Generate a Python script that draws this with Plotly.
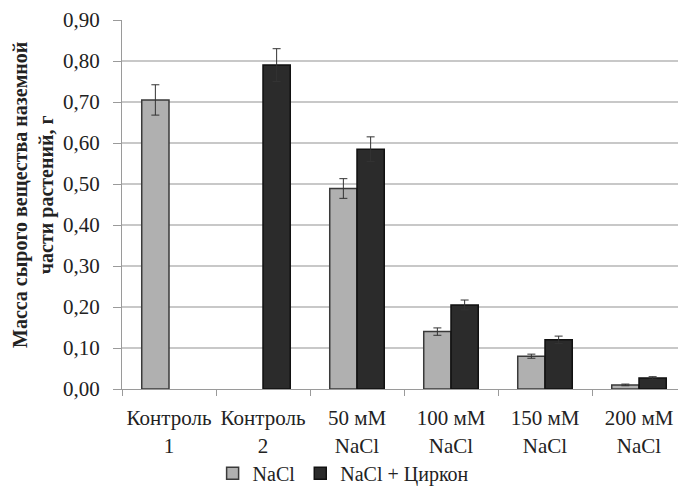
import plotly.graph_objects as go

categories = ["Контроль<br>1", "Контроль<br>2", "50 мМ<br>NaCl", "100 мМ<br>NaCl", "150 мМ<br>NaCl", "200 мМ<br>NaCl"]
nacl = [0.705, None, 0.489, 0.140, 0.080, 0.010]
nacl_err = [0.037, None, 0.024, 0.009, 0.005, 0.002]
zircon = [None, 0.790, 0.585, 0.205, 0.120, 0.027]
zircon_err = [None, 0.040, 0.030, 0.012, 0.009, 0.003]
y_ticks = [0.0, 0.1, 0.2, 0.3, 0.4, 0.5, 0.6, 0.7, 0.8, 0.9]

FONT = "Liberation Serif"

fig = go.Figure()
fig.add_trace(go.Bar(
    name="NaCl", x=categories, y=nacl,
    error_y=dict(type="data", array=nacl_err, color="#333333", thickness=1, width=4),
    marker=dict(color="#b0b0b0", line=dict(color="#3a3a3a", width=1.5)),
))
fig.add_trace(go.Bar(
    name="NaCl + Циркон", x=categories, y=zircon,
    error_y=dict(type="data", array=zircon_err, color="#333333", thickness=1, width=4),
    marker=dict(color="#2b2b2b", line=dict(color="#111111", width=1.5)),
))

fig.update_layout(
    width=678, height=480,
    margin=dict(l=114, r=0, t=12, b=99, autoexpand=False),
    paper_bgcolor="white", plot_bgcolor="white",
    separators=", ",
    barmode="group", bargap=0.42, bargroupgap=0.0,
    font=dict(family=FONT, size=21, color="#222222"),
    showlegend=True,
    legend=dict(
        orientation="h", xref="container", yref="paper",
        x=0.495, xanchor="center", y=-0.228, yanchor="middle",
        font=dict(family=FONT, size=20, color="#222222"),
        itemwidth=30, tracegroupgap=0, traceorder="normal",
        bgcolor="rgba(0,0,0,0)", borderwidth=0,
    ),
    xaxis=dict(
        automargin=False,
        showline=True, linecolor="#9a9a9a", linewidth=1,
        ticks="outside", ticklen=6, tickcolor="#9a9a9a",
        tickson="boundaries", showgrid=False,
        ticklabelstandoff=10,
        tickfont=dict(family=FONT, size=21, color="#222222"),
    ),
    yaxis=dict(
        automargin=False,
        range=[0, 0.9], tickvals=y_ticks, tickformat=".2f",
        showline=True, linecolor="#9a9a9a", linewidth=1,
        ticks="outside", ticklen=8, tickcolor="#9a9a9a",
        ticklabelstandoff=9,
        showgrid=True, gridcolor="#c8c8c8", gridwidth=1.5,
        zeroline=False,
        tickfont=dict(family=FONT, size=21, color="#222222"),
    ),
    annotations=[dict(
        text="<b>Масса сырого вещества наземной<br>части растений, г</b>",
        xref="paper", yref="paper",
        x=(33 - 122) / 564, y=(389 - 195) / 369,
        xanchor="center", yanchor="middle",
        textangle=-90, showarrow=False,
        font=dict(family=FONT, size=20, color="#222222"),
    )],
)

fig.write_html("out.html")
